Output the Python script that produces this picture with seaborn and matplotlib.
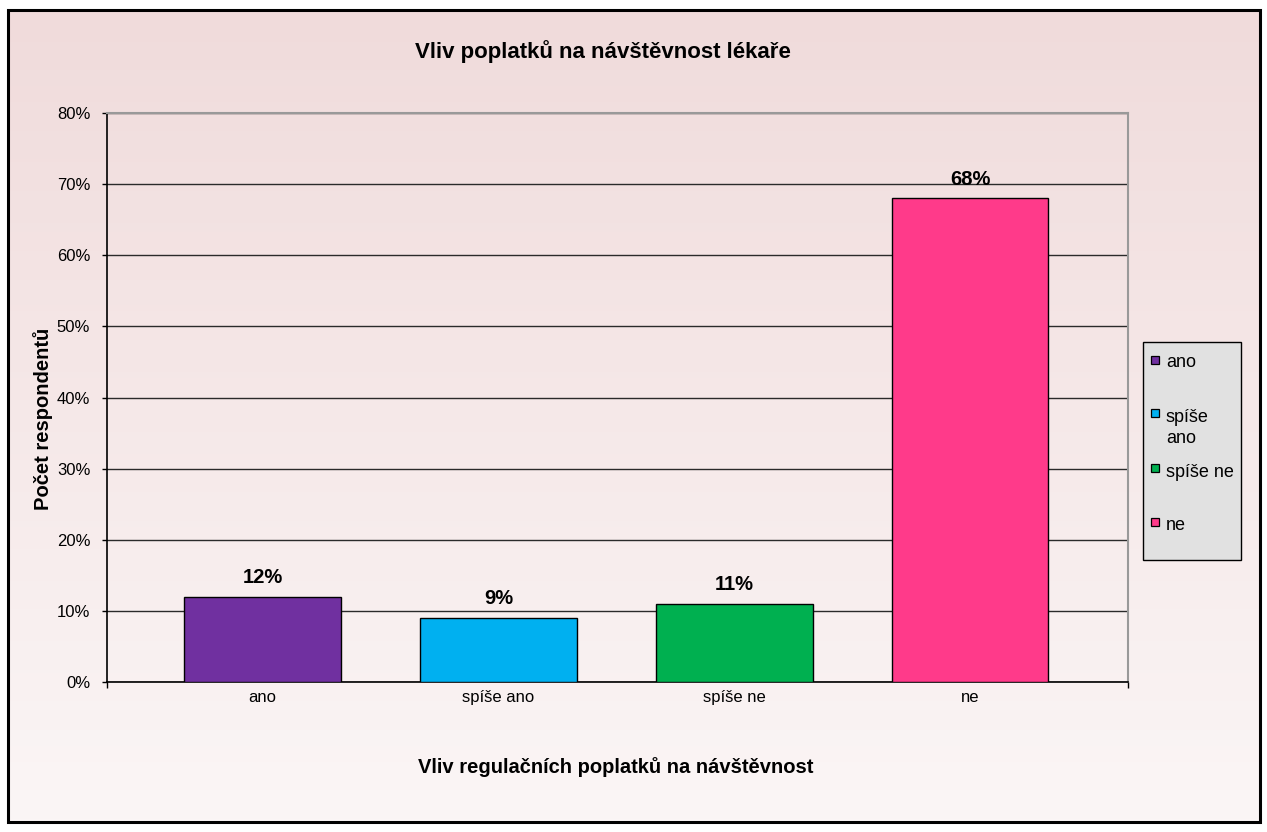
import numpy as np
import pandas as pd
import matplotlib
matplotlib.use("Agg")
import matplotlib.pyplot as plt
from matplotlib.patches import Rectangle
import seaborn as sns

# Data
categories = ["ano", "spíše ano", "spíše ne", "ne"]
shares = [12, 9, 11, 68]
bar_colors = ["#7030A0", "#00B0F0", "#00B050", "#FF3A8A"]
y_ticks = [0, 10, 20, 30, 40, 50, 60, 70, 80]
legend_labels = ["ano", "spíše\nano", "spíše ne", "ne"]

title = "Vliv poplatků na návštěvnost lékaře"
x_label = "Vliv regulačních poplatků na návštěvnost"
y_label = "Počet respondentů"

sns.set_theme(style="white")
plt.rcParams["font.family"] = ["Liberation Sans", "DejaVu Sans"]
plt.rcParams.update({"text.color": "black", "axes.labelcolor": "black",
                     "xtick.color": "black", "ytick.color": "black"})

W, H = 1267, 832
fig = plt.figure(figsize=(W / 100, H / 100), dpi=100)
fig.patch.set_facecolor("white")


def fx(px):
    return px / W


def fy(py):
    return 1 - py / H


# Gradient background inside the chart frame
bx0, by0, bx1, by1 = 8, 10, 1260, 822
bg = fig.add_axes([fx(bx0), fy(by1), fx(bx1) - fx(bx0), fy(by0) - fy(by1)], zorder=0)
top_c = np.array([240, 219, 219]) / 255
bot_c = np.array([251, 246, 246]) / 255
t = np.linspace(0, 1, 256)[:, None]
grad = top_c[None, :] * (1 - t) + bot_c[None, :] * t
bg.imshow(np.repeat(grad[:, None, :], 2, axis=1), aspect="auto", extent=[0, 1, 0, 1])
bg.set_axis_off()
fig.add_artist(Rectangle((fx(bx0), fy(by1)), fx(bx1) - fx(bx0), fy(by0) - fy(by1),
                         transform=fig.transFigure, fill=False, edgecolor="black",
                         linewidth=2.2, zorder=10))

# Plot area
ax = fig.add_axes([fx(107), fy(682), fx(1128) - fx(107), fy(113) - fy(682)], zorder=2)
ax.set_facecolor("none")

df = pd.DataFrame({"kategorie": categories, "podil": shares})
sns.barplot(data=df, x="kategorie", y="podil", hue="kategorie", palette=bar_colors,
            saturation=1, width=0.665, edgecolor="black", linewidth=1.0,
            legend=False, ax=ax, zorder=3)

ax.set_xlim(-0.66, 3.67)
ax.set_ylim(0, 80)
ax.set_yticks(y_ticks)
ax.set_yticklabels([f"{v}%" for v in y_ticks], fontsize=12)
ax.yaxis.grid(True, color="#2a2a2a", linewidth=1.0)
ax.set_axisbelow(True)
ax.tick_params(axis="y", direction="out", length=3.6, width=1, color="black",
               pad=8.5, left=True)
ax.tick_params(axis="x", length=0, pad=6, labelsize=12)
ax.set_xlabel("")
ax.set_ylabel("")

# Tick marks only at both ends of the category axis
ax.set_xticks([-0.66, 3.67], minor=True)
ax.tick_params(axis="x", which="minor", direction="out", length=4.5, width=1,
               color="black", bottom=True)

for side in ["left", "bottom"]:
    ax.spines[side].set_color("black")
    ax.spines[side].set_linewidth(1.2)
for side in ["top", "right"]:
    ax.spines[side].set_visible(True)
    ax.spines[side].set_color("#999999")
    ax.spines[side].set_linewidth(1.5)

for i, v in enumerate(shares):
    ax.annotate(f"{v}%", (i, v), xytext=(0, 7), textcoords="offset points",
                ha="center", va="bottom", fontsize=14.5, fontweight="bold",
                color="black", zorder=5)

fig.text(fx(603), fy(58), title, ha="center", va="baseline", fontsize=16,
         fontweight="bold")
fig.text(fx(616), fy(773), x_label, ha="center", va="baseline", fontsize=14.5,
         fontweight="bold")
fig.text(fx(43), fy(419), y_label, ha="center", va="center", rotation=90,
         fontsize=14.5, fontweight="bold")

# Legend box drawn at the right of the plot
fig.add_artist(Rectangle((fx(1143), fy(560)), fx(1241) - fx(1143), fy(342) - fy(560),
                         transform=fig.transFigure, facecolor="#e1e1e1",
                         edgecolor="black", linewidth=1.0, zorder=5))
square_centers = [360, 413, 468, 522]
first_baselines = [367, 422, 477, 530]
line_step = 21
for lab, col, sc, bl in zip(legend_labels, bar_colors, square_centers, first_baselines):
    fig.add_artist(Rectangle((fx(1151), fy(sc + 4)), fx(8), 8 / H,
                             transform=fig.transFigure, facecolor=col,
                             edgecolor="black", linewidth=0.9, zorder=6))
    for k, line in enumerate(lab.split("\n")):
        fig.text(fx(1166), fy(bl + k * line_step), line, ha="left", va="baseline",
                 fontsize=13, zorder=6)

fig.savefig("out.png", dpi=100, facecolor="white")
